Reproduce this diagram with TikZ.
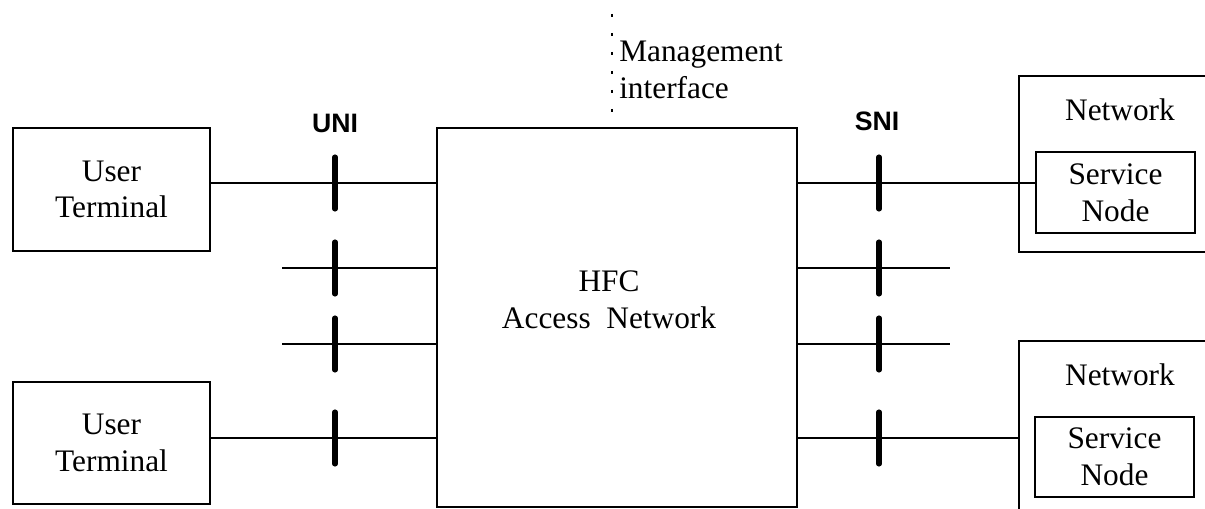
\documentclass[tikz,border=0pt]{standalone}
\usepackage{fontspec}
\setmainfont{Liberation Serif}
\newfontfamily\labelsans{Liberation Sans}
\begin{document}
\begin{tikzpicture}[x=0.75pt,y=-0.75pt,
  box/.style={draw,line width=1.9pt,rectangle,inner sep=0pt,align=center,
    font=\fontsize{23.5pt}{27.5pt}\selectfont},
  plain/.style={inner sep=0pt,align=center,font=\fontsize{23.5pt}{27.5pt}\selectfont},
  link/.style={line width=1.9pt},
  tickmark/.style={line width=3.8pt,line cap=round},
  iflabel/.style={inner sep=0pt,font=\labelsans\bfseries\fontsize{20pt}{22pt}\selectfont},
  mgmt/.style={line width=0.8pt,dash pattern=on 2.25pt off 12pt}]
\path[clip,use as bounding box] (0,0) rectangle (1205,509);
\fill[white] (0,0) rectangle (1205,509);

% main blocks
\node[box,minimum width=147.75pt,minimum height=92.25pt] (ut1) at (111.5,189.5) {User\\Terminal};
\node[box,minimum width=147.75pt,minimum height=91.5pt] (ut2) at (111.5,443) {User\\Terminal};
\node[box,line width=1.5pt,minimum width=270pt,minimum height=284.25pt] (hfc) at (617,317.5) {};
\node[plain] (hfct) at (609,300) {HFC\\Access~~Network};

% network blocks (right side runs off the page)
\node[box,minimum width=154.5pt,minimum height=132pt] (nw1) at (1122,164) {};
\node[plain,anchor=center] (nw1t) at (1120,110) {Network};
\node[box,minimum width=119.25pt,minimum height=60.75pt] (sn1) at (1115.5,192.5) {Service\\Node};
\node[box,minimum width=154.5pt,minimum height=141.75pt] (nw2) at (1122,435.5) {};
\node[plain,anchor=center] (nw2t) at (1120,375) {Network};
\node[box,minimum width=119.25pt,minimum height=60pt] (sn2) at (1114.5,457) {Service\\Node};

% rows
\coordinate (r1) at (0,183);
\coordinate (r2) at (0,268);
\coordinate (r3) at (0,344);
\coordinate (r4) at (0,438);
\coordinate (l2) at (282,268);
\coordinate (l3) at (282,344);
\coordinate (e2) at (950,268);
\coordinate (e3) at (950,344);

\draw[link] (ut1.east |- r1) -- (hfc.west |- r1);
\draw[link] (l2) -- (hfc.west |- l2);
\draw[link] (l3) -- (hfc.west |- l3);
\draw[link] (ut2.east |- r4) -- (hfc.west |- r4);
\draw[link] (hfc.east |- r1) -- (sn1.west |- r1);
\draw[link] (hfc.east |- e2) -- (e2);
\draw[link] (hfc.east |- e3) -- (e3);
\draw[link] (hfc.east |- r4) -- (nw2.west |- r4);

% interface ticks
\foreach \r in {r1,r2,r3,r4}{
  \draw[tickmark] ([yshift=19.5pt]335,0 |- \r) -- ([yshift=-19.5pt]335,0 |- \r);
  \draw[tickmark] ([yshift=19.5pt]879,0 |- \r) -- ([yshift=-19.5pt]879,0 |- \r);
}
\node[iflabel] (uni) at (335,123) {UNI};
\node[iflabel] (sni) at (877,121) {SNI};

% management interface
\coordinate (mtop) at (612,14);
\draw[mgmt] (mtop) -- (hfc.north -| mtop);
\node[plain,align=left,anchor=north west] (mgt) at (619,41) {Management\\interface};
\end{tikzpicture}
\end{document}
